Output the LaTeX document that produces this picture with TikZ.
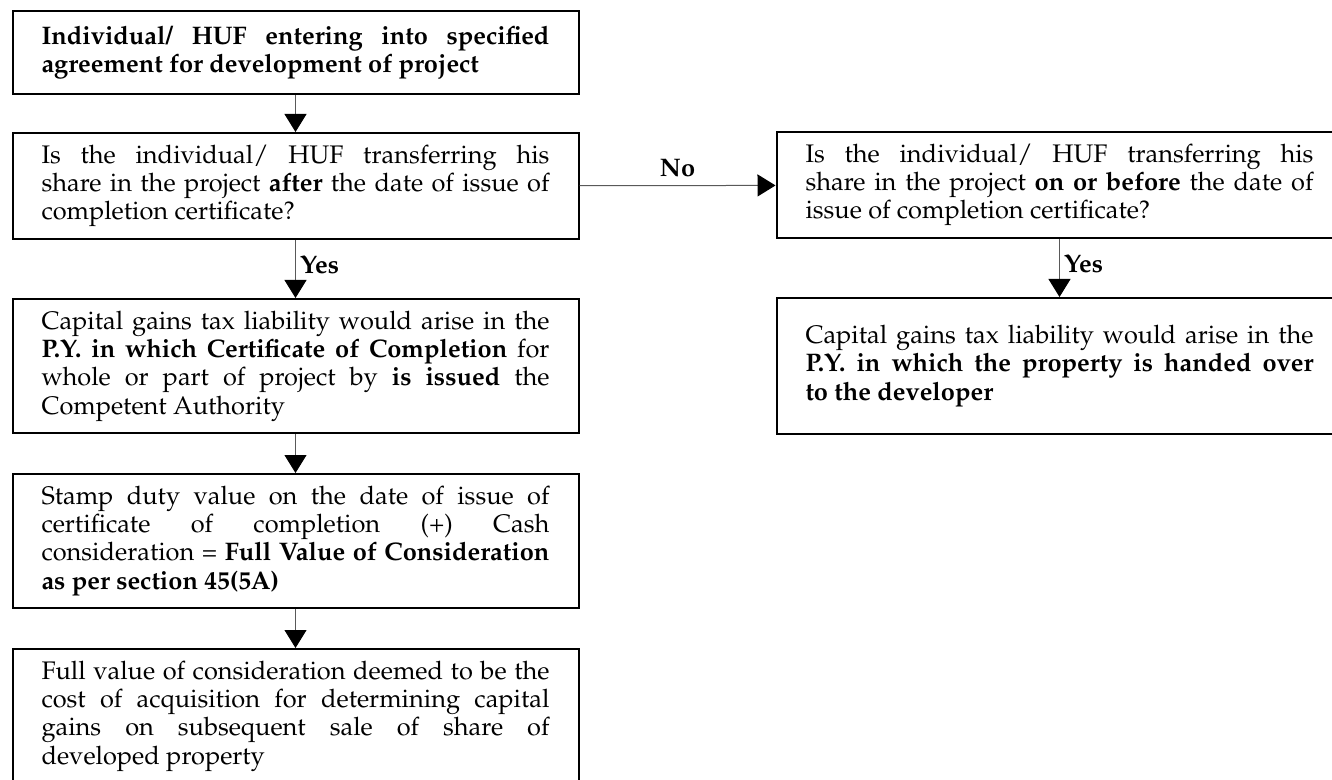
\documentclass[tikz,border=0pt]{standalone}
\usepackage[T1]{fontenc}
\usepackage{mathpazo}
\usetikzlibrary{positioning,arrows.meta}

\tikzset{
  stepbox/.style={draw, line width=1pt, anchor=north, text width=254pt,
    inner xsep=14.5pt, inner ysep=6pt, align=justify,
    font=\fontsize{12.7}{14.15}\selectfont,
    execute at begin node={\hyphenpenalty=10000\tolerance=10000}},
  flow/.style={draw=black!65, line width=0.5pt,
    -{Triangle[length=9pt,width=11pt,color=black]}},
  lbl/.style={font=\fontsize{12.7}{14}\selectfont\bfseries, inner sep=2pt}
}

\begin{document}
\begin{tikzpicture}[x=0.5pt,y=-0.5pt]
\useasboundingbox (0,0) rectangle (1332,780);

\node[stepbox, minimum height=41.5pt] (agree) at (295.5,10) {\textbf{Individual/ HUF entering into specified\linebreak
agreement for development of project}};

\node[stepbox] (after) at (295.5,132) {Is the individual/ HUF transferring his\linebreak
share in the project \textbf{after} the date of issue of\linebreak
completion certificate?};

\node[stepbox] (liabA) at (295.5,298) {Capital gains tax liability would arise in the\linebreak
\textbf{P.Y. in which Certificate of Completion} for\linebreak
whole or part of project by \textbf{is issued} the\linebreak
Competent Authority};

\node[stepbox] (stamp) at (295.5,473) {Stamp duty value on the date of issue of\linebreak
certificate of completion (+) Cash\linebreak
consideration = \textbf{Full Value of Consideration}\linebreak
\textbf{as per section 45(5A)}};

\node[stepbox] (cost) at (295.5,648) {Full value of consideration deemed to be the\linebreak
cost of acquisition for determining capital\linebreak
gains on subsequent sale of share of\linebreak
developed property};

\node[stepbox] (before) at (1059.5,131) {Is the individual/ HUF transferring his\linebreak
share in the project \textbf{on or before} the date of\linebreak
issue of completion certificate?};

\node[stepbox, minimum height=68pt] (liabB) at (1059.5,297) {Capital gains tax liability would arise in the\linebreak
\textbf{P.Y. in which the property is handed over}\linebreak
\textbf{to the developer}};

\draw[flow] (agree) -- (after);
\draw[flow] (after) -- node[lbl, right, pos=0.42] (yesA) {Yes} (liabA);
\draw[flow] (liabA) -- (stamp);
\draw[flow] (stamp) -- (cost);
\draw[flow] (after) -- node[lbl, above, yshift=2pt] (no) {No} (before);
\draw[flow] (before) -- node[lbl, right, pos=0.42] (yesB) {Yes} (liabB);
\end{tikzpicture}
\end{document}
